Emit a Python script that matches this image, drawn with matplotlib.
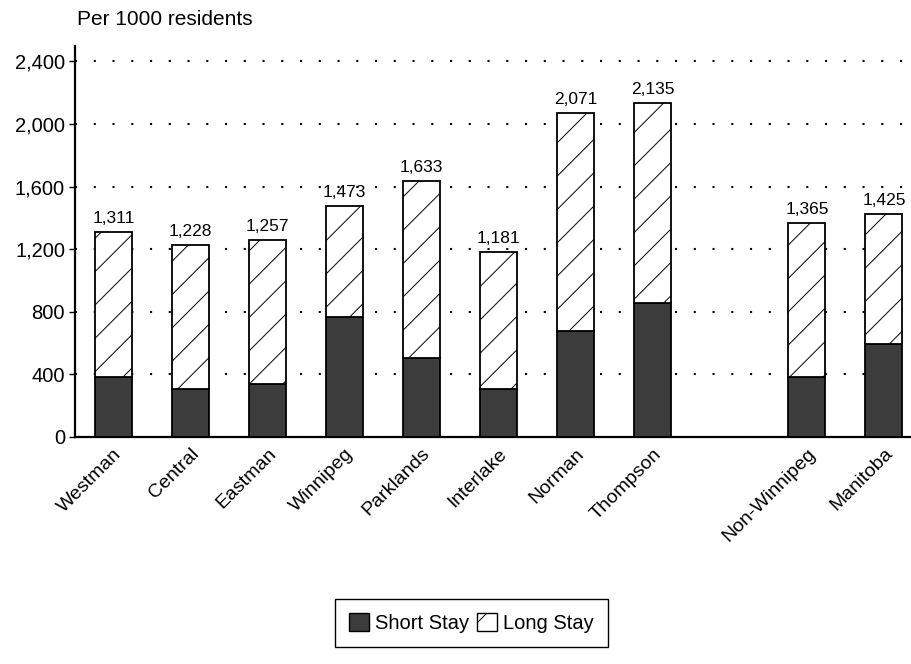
import matplotlib
matplotlib.use('Agg')
import matplotlib.pyplot as plt
from matplotlib.patches import Patch
from matplotlib.ticker import FuncFormatter

plt.rcParams['font.family'] = ['Liberation Sans', 'DejaVu Sans']
plt.rcParams['hatch.linewidth'] = 0.7

REGIONS = ['Westman', 'Central', 'Eastman', 'Winnipeg', 'Parklands',
           'Interlake', 'Norman', 'Thompson', 'Non-Winnipeg', 'Manitoba']
POSITIONS = [0, 1, 2, 3, 4, 5, 6, 7, 9, 10]
TOTALS = [1311, 1228, 1257, 1473, 1633, 1181, 2071, 2135, 1365, 1425]
SHORT_STAY = [382, 305, 341, 768, 504, 309, 676, 855, 380, 595]
LONG_STAY = [t - s for t, s in zip(TOTALS, SHORT_STAY)]

fig = plt.figure(figsize=(9.12, 6.64), dpi=100)
ax = fig.add_axes([0.082, 0.342, 0.916, 0.589])

ax.bar(POSITIONS, SHORT_STAY, width=0.48, color='#3c3c3c',
       edgecolor='black', linewidth=1.3, zorder=3)
ax.bar(POSITIONS, LONG_STAY, bottom=SHORT_STAY, width=0.48, color='white',
       edgecolor='black', hatch='/', linewidth=1.3, zorder=3)

for x, t in zip(POSITIONS, TOTALS):
    ax.text(x, t + 40, f'{t:,}', ha='center', va='bottom', fontsize=12.5)

ax.set_ylim(0, 2500)
ax.set_xlim(-0.5, 10.34)
ax.set_yticks(range(0, 2401, 400))
ax.yaxis.set_major_formatter(FuncFormatter(lambda v, p: f'{int(v):,}'))
ax.tick_params(axis='y', labelsize=14.5, length=4, width=1, pad=3)
ax.set_xticks(POSITIONS)
ax.set_xticklabels(REGIONS, rotation=45, ha='right', rotation_mode='anchor',
                   fontsize=14)
ax.tick_params(axis='x', length=0, pad=6)
ax.yaxis.grid(True, color='black', linestyle=(0, (1, 8)), linewidth=1.5,
              zorder=0)
for s in ax.spines.values():
    s.set_linewidth(1.6)
ax.spines['right'].set_visible(False)
ax.spines['top'].set_visible(False)

fig.text(0.084, 0.971, 'Per 1000 residents', fontsize=15, ha='left',
         va='center')

handles = [Patch(facecolor='#3c3c3c', edgecolor='black', label='Short Stay'),
           Patch(facecolor='white', edgecolor='black', hatch='/',
                 label='Long Stay')]
fig.legend(handles=handles, loc='center', bbox_to_anchor=(0.517, 0.062),
           ncol=2, fancybox=False, edgecolor='black', framealpha=1,
           fontsize=14.5, handlelength=1.0, handleheight=1.0,
           handletextpad=0.3, columnspacing=0.4, borderpad=0.7)

fig.savefig('out.png', dpi=100)
